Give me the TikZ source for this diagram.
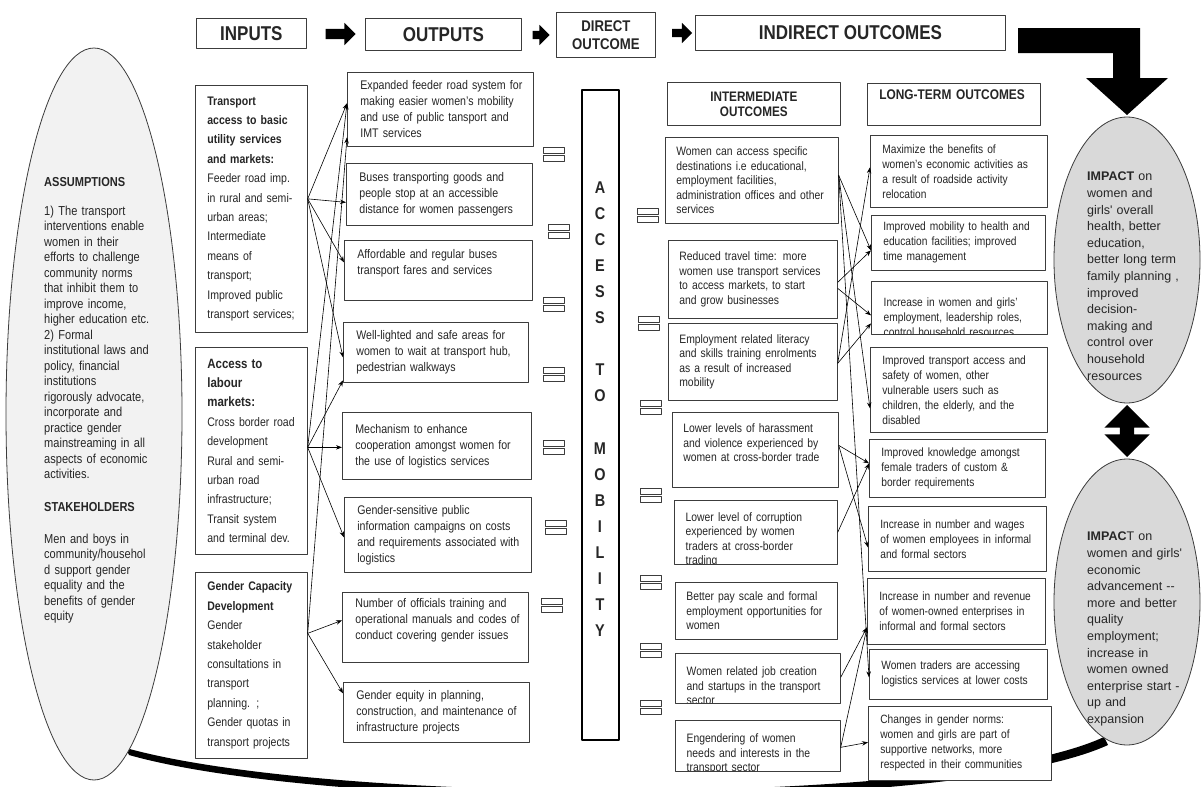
\documentclass[tikz,border=0pt]{standalone}
\usepackage{fontspec}
\setmainfont{Liberation Sans}[FakeStretch=0.85]
\newfontfamily\widefont{Liberation Sans}
\usetikzlibrary{shapes.geometric,shapes.arrows,arrows.meta}
\definecolor{boxline}{HTML}{3C3C3C}
\definecolor{txtgray}{HTML}{262626}
\definecolor{impfill}{HTML}{D9D9D9}
\definecolor{asmfill}{HTML}{F2F2F2}
\newcommand{\fsz}[2]{\fontsize{#1}{#2}\selectfont}
\begin{document}
\begin{tikzpicture}[x=1pt,y=-1pt,line join=round,>={Stealth[length=6pt,width=4.5pt]}]
\tikzset{
  nowrap/.style={execute at begin node={\rightskip=-80pt plus 1fil\relax\hyphenpenalty=10000\relax}},
  hdr/.style={draw=boxline, line width=0.8pt, anchor=north west, font=\bfseries\fsz{20}{22}, inner sep=0pt, text=txtgray},
  plainbox/.style={draw=boxline, line width=0.7pt, fill=white, anchor=north west, inner ysep=0pt, text=txtgray},
  box/.style={plainbox, align=left, nowrap},
  inbox/.style={box, font=\fsz{12.4}{19.4}, inner xsep=12pt},
  outbox/.style={box, font=\fsz{12.5}{16}, inner xsep=13pt},
  midbox/.style={box, font=\fsz{12.2}{14.5}, inner xsep=11pt},
  ltbox/.style={box, font=\fsz{12}{15}, inner xsep=12pt},
  cliptxt/.style={anchor=north west, inner sep=0pt, align=left, text=txtgray, nowrap},
  blk/.style={single arrow, fill=black, draw=none, inner xsep=0pt, inner ysep=5pt, single arrow head extend=6pt},
  conn/.style={->, line width=0.6pt},
  pair/.style={draw=boxline, line width=0.6pt},
  impell/.style={ellipse, draw=boxline, line width=0.8pt, fill=impfill, minimum width=146, minimum height=286, inner sep=0pt},
  imptxt/.style={anchor=north west, align=left, text width=100, inner sep=0pt, font=\widefont\fsz{12.5}{16.6}, text=txtgray, nowrap},
}
\useasboundingbox (0,0) rectangle (1203,787);
\fill[white] (0,0) rectangle (1203,787);

% header row
\node[hdr, minimum width=110, minimum height=30] (inputs) at (196,18) {INPUTS};
\node[blk, minimum height=30] (ar1) at (338,34) {};
\node[hdr, minimum width=156, minimum height=32] (outputs) at (365,18) {OUTPUTS};
\node[blk, minimum height=17, inner ysep=4pt, single arrow head extend=6pt] (ar2) at (539,35) {};
\node[hdr, minimum width=99, minimum height=45, align=center, font=\bfseries\fsz{15.5}{18}] (direct) at (556,12) {DIRECT\\OUTCOME};
\node[blk, minimum height=20, inner ysep=4pt, single arrow head extend=6pt] (ar3) at (680,33) {};
\node[hdr, minimum width=310, minimum height=35] (indirect) at (695,15) {INDIRECT OUTCOMES};
\fill (1018,28) -- (1140,28) -- (1140,78) -- (1168,78) -- (1127,115) -- (1086,78)
  -- (1113,78) -- (1113,53) -- (1018,53) -- cycle;

% feedback band at the bottom
\fill (126,748) .. controls (330,805) and (950,808) .. (1104,737)
  -- (1108,745) .. controls (955,815) and (330,812) .. (129,755) -- cycle;

% assumptions
\node[ellipse, draw=boxline, line width=0.8pt, fill=asmfill, minimum width=176, minimum height=732, inner sep=0pt] (assum) at (94,414) {};
\node[anchor=north west, align=left, text width=100, inner sep=0pt, font=\fsz{13}{15.5}, text=txtgray, nowrap] (assumtxt) at (44,177)
  {\textbf{ASSUMPTIONS}\\[13.5pt]
   1) The transport\\ interventions enable\\ women in their\\ efforts to challenge\\ community norms\\
   that inhibit them to\\ improve income,\\ higher education etc.\\ 2) Formal\\ institutional laws and\\
   policy, financial\\ institutions\\ rigorously advocate,\\ incorporate and\\ practice gender\\
   mainstreaming in all\\ aspects of economic\\ activities.\\[17pt]
   \textbf{STAKEHOLDERS}\\[16.5pt]
   Men and boys in\\ community/househol\\ d support gender\\ equality and the\\ benefits of gender\\ equity};

% inputs
\node[inbox, text width=88, minimum height=247] (in1) at (195,85)
  {\textbf{Transport}\\ \textbf{access to basic}\\ \textbf{utility services}\\ \textbf{and markets:}\\
   Feeder road imp.\\ in rural and semi-\\ urban areas;\\ Intermediate\\ means of\\ transport;\\
   Improved public\\ transport services;};
\node[inbox, text width=88, minimum height=207] (in2) at (195,347)
  {{\bfseries\fsz{13.5}{19.4}Access to\\ labour\\ markets:}\\ Cross border road\\ development\\
   Rural and semi-\\ urban road\\ infrastructure;\\ Transit system\\ and terminal dev.};
\node[inbox, text width=88, minimum height=186] (in3) at (195,572)
  {\textbf{Gender Capacity}\\ \textbf{Development}\\ Gender\\ stakeholder\\ consultations in\\
   transport\\ planning. ;\\ Gender quotas in\\ transport projects};

% outputs
\node[outbox, text width=160, minimum height=74] (o1) at (347,72)
  {Expanded feeder road system for\\ making easier women's mobility\\ and use of public tansport and\\ IMT services};
\node[outbox, text width=160, minimum height=62] (o2) at (346,163)
  {Buses transporting goods and\\ people stop at an accessible\\ distance  for women passengers};
\node[outbox, text width=162, minimum height=60] (o3) at (344,240)
  {Affordable and regular buses\\ transport fares and services\\ \mbox{}};
\node[outbox, text width=159, minimum height=60] (o4) at (343,322)
  {Well-lighted and safe areas for\\ women to wait at transport hub,\\ pedestrian walkways};
\node[outbox, text width=163, minimum height=67] (o5) at (342,412)
  {Mechanism to enhance\\ cooperation amongst women for\\ the use of logistics services};
\node[outbox, text width=161, minimum height=75] (o6) at (344,497)
  {Gender-sensitive public\\ information campaigns on costs\\ and requirements associated with\\ logistics};
\node[outbox, text width=160, minimum height=70] (o7) at (342,592)
  {Number of officials training and\\ operational manuals and codes of\\ conduct covering gender issues\\ \mbox{}};
\node[outbox, text width=160, minimum height=60] (o8) at (343,682)
  {Gender equity in planning,\\ construction, and maintenance of\\ infrastructure projects};

% direct outcome
\node[draw=black, line width=2.2pt, minimum width=37, minimum height=650, anchor=north west, inner sep=0pt] (mob) at (581,89) {};
\node[font=\bfseries\fsz{17}{26.1}, align=center, inner sep=0pt, text=txtgray] (mobtxt) at (600,409)
  {A\\C\\C\\E\\S\\S\\[26.1pt]T\\O\\[26.1pt]M\\O\\B\\I\\L\\I\\T\\Y};
\foreach \px/\py in {543/147, 548/224, 543/297, 543/367, 543/440, 545/520, 541/598,
                     637/208, 638/316, 640/400, 640/488, 640/575, 640/643, 640/700}{
  \draw[pair] (\px,\py) rectangle ++(21,6);
  \draw[pair] (\px,\py+8) rectangle ++(21,6);
}

% intermediate outcomes
\node[plainbox, text width=151, inner xsep=11pt, minimum height=43, align=center, font=\bfseries\fsz{13.8}{15}] (ihdr) at (667,82) {INTERMEDIATE\\OUTCOMES};
\node[midbox, text width=151, minimum height=86] (i1) at (665,137)
  {Women can access specific\\ destinations i.e educational,\\ employment facilities,\\ administration offices and other\\ services};
\node[midbox, text width=147, minimum height=78] (i2) at (668,240)
  {Reduced travel time:  more\\ women use transport services\\ to access markets, to start\\ and grow businesses};
\node[midbox, text width=147, minimum height=77] (i3) at (668,323)
  {Employment related literacy\\ and skills training  enrolments\\ as a result of increased\\ mobility};
\node[midbox, text width=144, minimum height=75] (i4) at (672,412)
  {Lower levels of harassment\\ and violence experienced by\\ women at cross-border trade\\ \mbox{}};
\node[midbox, text width=141, minimum height=64, path picture={
    \node[cliptxt, text width=141, font=\fsz{12.2}{14.5}]
      at ([xshift=11, yshift=-7]path picture bounding box.north west)
      {Lower level of corruption\\ experienced by women\\ traders at cross-border\\ trading};}] (i5) at (674,500) {};
\node[midbox, text width=140, minimum height=57] (i6) at (675,582)
  {Better pay scale and formal\\ employment opportunities for\\ women};
\node[midbox, text width=143, minimum height=50, path picture={
    \node[cliptxt, text width=143, font=\fsz{12.2}{14.5}]
      at ([xshift=11, yshift=-7]path picture bounding box.north west)
      {Women related job creation\\ and startups in the transport\\ sector};}] (i7) at (675,653) {};
\node[midbox, text width=143, minimum height=51, path picture={
    \node[cliptxt, text width=143, font=\fsz{12.2}{14.5}]
      at ([xshift=11, yshift=-8]path picture bounding box.north west)
      {Engendering of women\\ needs and interests in the\\ transport sector};}] (i8) at (675,720) {};

% long-term outcomes
\node[ltbox, text width=149, minimum height=42, text depth=20pt, font=\bfseries\fsz{14}{15}] (lhdr) at (867,83) {LONG-TERM OUTCOMES};
\node[ltbox, text width=153, minimum height=72] (l1) at (870,135)
  {Maximize the benefits of\\ women's economic activities as\\ a result of roadside activity\\ relocation};
\node[ltbox, text width=150, minimum height=55] (l2) at (871,215)
  {Improved mobility to health and\\ education facilities; improved\\ time management};
\node[ltbox, text width=152, minimum height=53, path picture={
    \node[cliptxt, text width=152, font=\fsz{12}{15}]
      at ([xshift=12, yshift=-9]path picture bounding box.north west)
      {Increase in women and girls'\\ employment, leadership roles,\\ control household resources};}] (l3) at (871,281) {};
\node[ltbox, text width=153, minimum height=85] (l4) at (870,347)
  {Improved transport access and\\ safety of women,  other\\ vulnerable users such as\\ children, the elderly, and the\\ disabled};
\node[ltbox, text width=152, minimum height=58] (l5) at (869,439)
  {Improved knowledge amongst\\ female traders of custom \&\\ border requirements};
\node[ltbox, text width=154, minimum height=65] (l6) at (868,506)
  {Increase in number and wages\\ of women employees in informal\\ and formal sectors};
\node[ltbox, text width=154, minimum height=66] (l7) at (867,578)
  {Increase in number and revenue\\ of women-owned enterprises in\\ informal and formal sectors};
\node[ltbox, text width=154, minimum height=50] (l8) at (869,649)
  {Women  traders are accessing\\ logistics services at lower costs};
\node[ltbox, text width=159, minimum height=74] (l9) at (868,706)
  {Changes in gender norms:\\ women and girls are part of\\ supportive networks, more\\ respected in their communities};

% impacts
\node[impell] (imp1) at (1127,260) {};
\node[impell] (imp2) at (1127,602) {};
\node[double arrow, rotate=90, fill=black, minimum height=52, inner xsep=0pt, inner ysep=7pt, double arrow head extend=15.5pt] (dbl) at (1127,431) {};
\node[imptxt] (imp1txt) at (1087,172)
  {\textbf{IMPACT} on\\ women and\\ girls' overall\\ health, better\\ education,\\ better long term\\ family planning ,\\
   improved\\ decision-\\ making and\\ control over\\ household\\ resources};
\node[imptxt] (imp2txt) at (1087,532)
  {\textbf{IMPAC}T on\\ women and girls'\\ economic\\ advancement --\\ more and better\\ quality\\ employment;\\
   increase in\\ women owned\\ enterprise start -\\ up and\\ expansion};

% inputs to outputs
\foreach \s/\sy/\t/\ty in {in1/10/o1/6, in1/10/o2/-8, in1/10/o3/8, in1/10/o4/-5,
                           in2/3.5/o1/6, in2/3.5/o4/-28, in2/3.5/o5/-1.5, in2/3.5/o6/-2.5,
                           in3/32/o1/-28, in3/32/o7/7, in3/32/o8/19}
  \draw[conn] ([yshift=\sy]\s.east) -- ([yshift=\ty]\t.west);

% intermediate to long-term
\foreach \s/\sy/\t/\ty in {i1/5/l2/-7.5, i1/5/l4/-18.5, i1/5/l8/-3,
                           i2/-3/l2/-7.5, i2/-9/l3/-7.5, i3/-1.5/l3/-15.5, i3/-1.5/l1/4,
                           i4/4.5/l5/5, i4/4.5/l6/-8.5, i5/0/l5/5,
                           i7/1/l7/-16, i8/-1.5/l7/-16, i8/-1.5/l9/1}
  \draw[conn] ([yshift=\sy]\s.east) -- ([yshift=\ty]\t.west);
\end{tikzpicture}
\end{document}
